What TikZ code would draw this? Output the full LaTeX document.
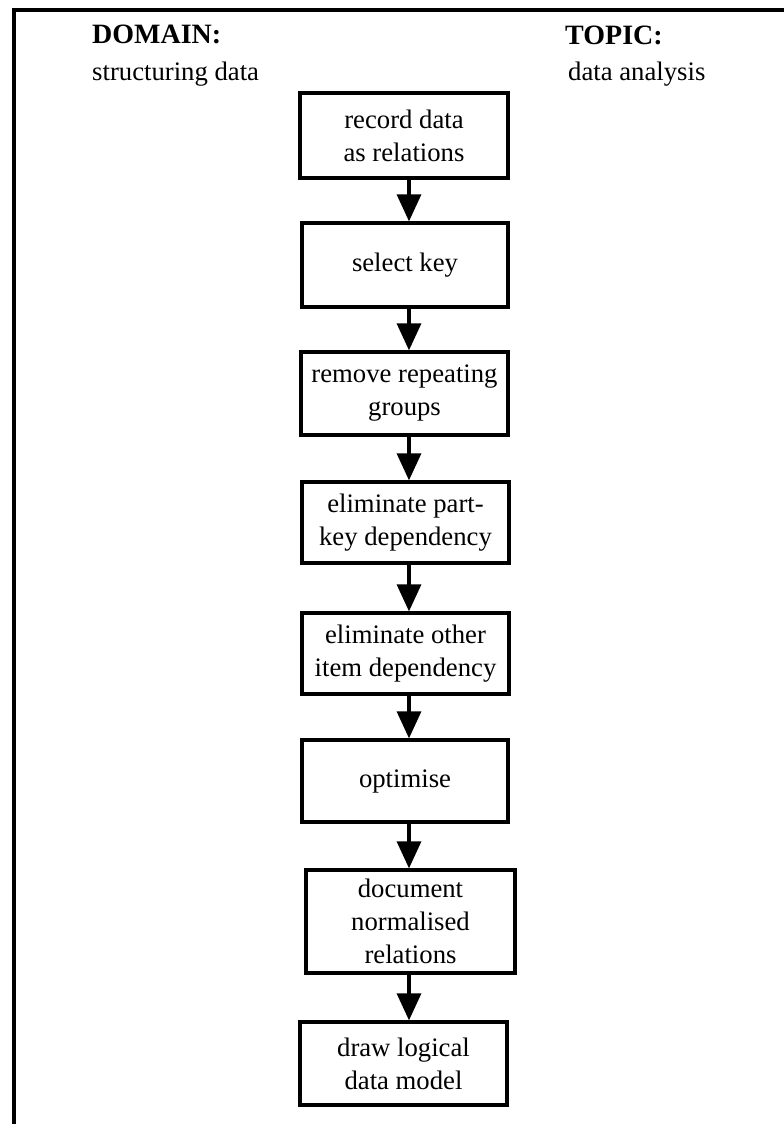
\documentclass[tikz,border=0pt]{standalone}
\usepackage{fontspec}
\setmainfont{Liberation Serif}
\usetikzlibrary{arrows.meta}
\begin{document}
\begin{tikzpicture}[x=1pt,y=-1pt,
  stepbox/.style={draw=black,line width=3.3pt,fill=white,align=center,
    inner sep=0pt,font=\fontsize{26.7pt}{33pt}\selectfont},
  flow/.style={line width=3.3pt,-{Triangle[length=27pt,width=24pt]}},
  head/.style={anchor=base west,inner sep=0pt,font=\fontsize{28pt}{33pt}\selectfont\bfseries},
  sub/.style={anchor=base west,inner sep=0pt,font=\fontsize{26.7pt}{33pt}\selectfont}]
% page area
\fill[white] (0,0) rectangle (784,1124);
\useasboundingbox (0,0) rectangle (784,1124);
% frame (top and left edges)
\draw[line width=3.3pt,line cap=rect] (14,1124) -- (14,10) -- (784,10);
% headings
\node[head] (dom) at (92,44) {DOMAIN:};
\node[sub] (domv) at (92,81) {structuring data};
\node[head] (top) at (565,45) {TOPIC:};
\node[sub] (topv) at (568,81) {data analysis};
% steps
\node[stepbox,minimum width=208pt,minimum height=85pt] (s1) at (404,135.5) {record data\\as relations};
\node[stepbox,minimum width=206pt,minimum height=84pt] (s2) at (405,265) {select key};
\node[stepbox,minimum width=207pt,minimum height=83pt] (s3) at (404.5,393.5) {remove repeating\\groups};
\node[stepbox,minimum width=207pt,minimum height=81pt] (s4) at (405.5,522.5) {eliminate part-\\key dependency};
\node[stepbox,minimum width=207pt,minimum height=81pt] (s5) at (405.5,653.5) {eliminate other\\item dependency};
\node[stepbox,minimum width=206pt,minimum height=82pt] (s6) at (405,781) {optimise};
\node[stepbox,minimum width=209pt,minimum height=103pt] (s7) at (410.5,921.5) {document\\normalised\\relations};
\node[stepbox,minimum width=207pt,minimum height=83pt] (s8) at (403.5,1063.5) {draw logical\\data model};
% connectors
\draw[flow] (s1.south -| 409,0) -- (s2.north -| 409,0);
\draw[flow] (s2.south -| 409,0) -- (s3.north -| 409,0);
\draw[flow] (s3.south -| 409,0) -- (s4.north -| 409,0);
\draw[flow] (s4.south -| 409,0) -- (s5.north -| 409,0);
\draw[flow] (s5.south -| 409,0) -- (s6.north -| 409,0);
\draw[flow] (s6.south -| 409,0) -- (s7.north -| 409,0);
\draw[flow] (s7.south -| 409,0) -- (s8.north -| 409,0);
\end{tikzpicture}
\end{document}
